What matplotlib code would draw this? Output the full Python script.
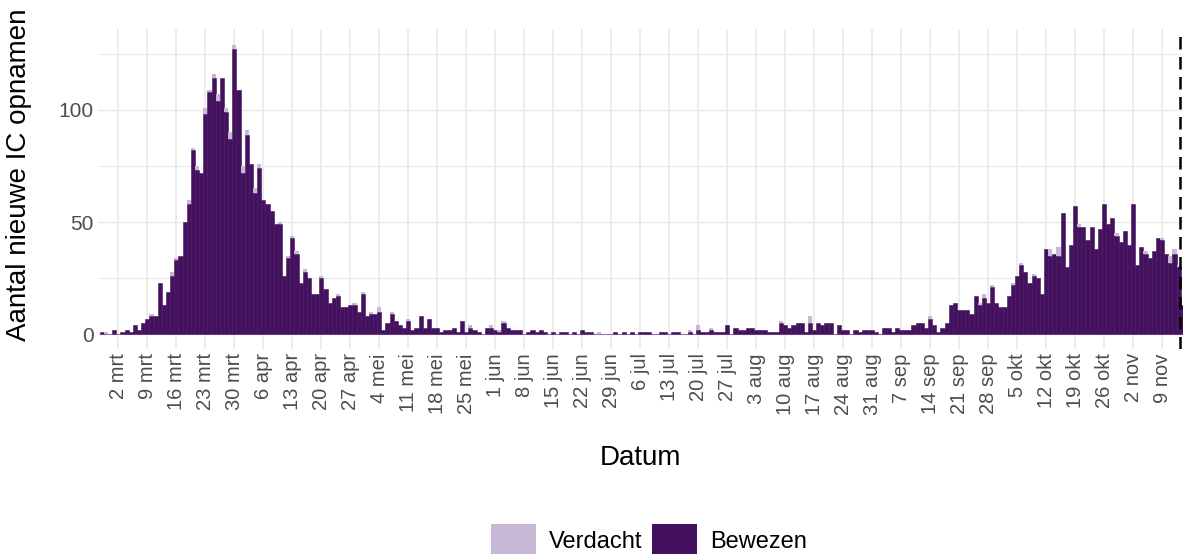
import numpy as np
import pandas as pd
import matplotlib
matplotlib.use('Agg')
import matplotlib.pyplot as plt
from matplotlib.patches import Patch

# dagelijkse IC opnamen, vanaf 27 feb 2020
start_date = '2020-02-27'
bewezen = [
    1, 0, 0, 2,
    0, 1, 2, 1, 4, 2, 5,
    7, 8, 8, 23, 13, 19, 26,
    33, 35, 50, 58, 82, 73, 72,
    98, 108, 114, 104, 114, 99, 87,
    127, 109, 72, 89, 76, 63, 74,
    60, 58, 55, 49, 49, 26, 34,
    43, 36, 23, 28, 25, 18, 18,
    25, 20, 14, 16, 17, 12, 12,
    13, 13, 10, 18, 8, 9, 9,
    10, 2, 5, 9, 6, 4, 3,
    6, 2, 3, 8, 3, 7, 3,
    3, 1, 2, 2, 3, 1, 6,
    1, 3, 2, 1, 0, 3, 3,
    2, 1, 5, 3, 2, 2, 2,
    0, 1, 2, 1, 2, 1, 0,
    1, 0, 1, 1, 0, 1, 0,
    2, 1, 1, 0, 0, 0, 0,
    0, 1, 0, 1, 0, 1, 0,
    1, 1, 1, 0, 0, 1, 1,
    0, 1, 1, 0, 0, 1, 0,
    2, 1, 1, 2, 1, 1, 1,
    4, 0, 3, 2, 2, 3, 3,
    2, 2, 2, 1, 1, 1, 5,
    4, 3, 4, 5, 5, 1, 5,
    2, 5, 4, 5, 5, 0, 4,
    2, 2, 0, 2, 1, 2, 2,
    2, 1, 0, 3, 3, 1, 3,
    2, 2, 2, 4, 5, 5, 3,
    7, 4, 1, 3, 5, 13, 14,
    11, 11, 11, 9, 17, 13, 16,
    14, 21, 14, 12, 12, 17, 22,
    26, 31, 28, 23, 26, 25, 18,
    38, 35, 36, 35, 54, 30, 40,
    57, 48, 48, 42, 48, 38, 47,
    58, 49, 52, 44, 41, 46, 40,
    58, 31, 39, 36, 34, 37, 43,
    42, 36, 32, 36, 30, 13,
]
verdacht = [
    0, 1, 0, 0,
    0, 0, 0, 0, 0, 0, 0,
    0, 1, 0, 0, 0, 0, 2,
    1, 0, 0, 2, 1, 2, 0,
    3, 1, 2, 3, 0, 2, 3,
    2, 0, 3, 2, 0, 2, 2,
    0, 0, 0, 0, 1, 0, 1,
    1, 1, 0, 1, 0, 0, 0,
    1, 0, 0, 0, 1, 0, 0,
    0, 1, 0, 1, 0, 1, 0,
    2, 0, 0, 1, 0, 0, 0,
    1, 0, 0, 0, 0, 0, 0,
    0, 0, 0, 0, 0, 0, 0,
    0, 1, 0, 0, 0, 0, 1,
    0, 1, 1, 0, 0, 0, 0,
    0, 0, 0, 0, 0, 0, 0,
    0, 0, 0, 0, 0, 0, 0,
    0, 0, 0, 0, 1, 0, 0,
    0, 0, 0, 0, 0, 0, 0,
    0, 0, 0, 0, 0, 0, 0,
    0, 0, 0, 0, 0, 1, 0,
    2, 0, 0, 1, 0, 0, 0,
    0, 0, 0, 0, 0, 0, 0,
    0, 0, 0, 0, 0, 0, 1,
    0, 0, 0, 0, 0, 0, 3,
    0, 0, 0, 0, 0, 0, 0,
    0, 0, 0, 0, 0, 0, 0,
    0, 0, 0, 0, 0, 0, 0,
    0, 0, 0, 0, 0, 0, 0,
    1, 0, 0, 0, 0, 0, 0,
    0, 0, 0, 0, 0, 1, 2,
    0, 1, 0, 0, 0, 0, 1,
    0, 1, 0, 0, 1, 0, 0,
    0, 3, 0, 4, 0, 0, 0,
    0, 1, 0, 0, 0, 0, 0,
    0, 0, 0, 1, 0, 0, 0,
    0, 0, 0, 1, 0, 0, 0,
    1, 0, 3, 2, 1, 0,
]

# wekelijkse labels (maandagen) en Nederlandse maandnamen
tick_start = '2020-03-02'
tick_end = '2020-11-09'
maanden = {2: 'feb', 3: 'mrt', 4: 'apr', 5: 'mei', 6: 'jun', 7: 'jul',
           8: 'aug', 9: 'sep', 10: 'okt', 11: 'nov'}
cutoff_date = '2020-11-13 07:00'  # gestippelde lijn
y_major = [0, 50, 100]
y_minor = [25, 75, 125]

kleur_bewezen = '#44115e'
kleur_verdacht = '#c7b8d5'

plt.rcParams['font.family'] = ['Liberation Sans', 'DejaVu Sans']

dates = pd.date_range(start_date, periods=len(bewezen), freq='D')
tick_dates = pd.date_range(tick_start, tick_end, freq='7D')
tick_labels = [f'{d.day} {maanden[d.month]}' for d in tick_dates]

W, H = 1183, 554
fig = plt.figure(figsize=(W / 100, H / 100), dpi=100)
ax = fig.add_axes([98 / W, 1 - 349 / H, 1 - 98 / W, (349 - 29) / H])

ax.bar(dates, bewezen, width=1.0, color=kleur_bewezen, linewidth=0.4,
       edgecolor=kleur_bewezen, zorder=2)
ax.bar(dates, verdacht, bottom=bewezen, width=1.0, color=kleur_verdacht,
       linewidth=0, zorder=2)
ax.axvline(pd.Timestamp(cutoff_date), color='black', linestyle=(0, (5, 3)),
           linewidth=1.8, zorder=3)

ax.set_xlim(dates[0] - pd.Timedelta(hours=22), dates[-1] + pd.Timedelta(hours=1.5))
ax.set_ylim(-6.5, 136)

ax.set_xticks(tick_dates)
ax.set_xticklabels(tick_labels, rotation=90, fontsize=14.5, color='#4d4d4d')
ax.set_yticks(y_major)
ax.set_yticks(y_minor, minor=True)
ax.set_yticklabels([str(v) for v in y_major], fontsize=15, color='#4d4d4d')
ax.tick_params(axis='both', which='both', length=0)
ax.tick_params(axis='x', pad=3)
ax.tick_params(axis='y', pad=3)

ax.grid(axis='x', which='major', color='#ebebeb', linewidth=1.3, zorder=0)
ax.grid(axis='y', which='major', color='#ebebeb', linewidth=1.0, zorder=0)
ax.grid(axis='y', which='minor', color='#ebebeb', linewidth=0.8, zorder=0)
ax.set_axisbelow(True)
for s in ax.spines.values():
    s.set_visible(False)

ax.set_xlabel('Datum', fontsize=20, labelpad=22)
ax.set_ylabel('Aantal nieuwe IC opnamen', fontsize=20)
ax.yaxis.set_label_coords((32 - 98) / 1085, (349 - 175) / 320)

handles = [Patch(facecolor=kleur_verdacht, label='Verdacht'),
           Patch(facecolor=kleur_bewezen, label='Bewezen')]
fig.legend(handles=handles, loc='center', bbox_to_anchor=(649 / W, 1 - 540 / H),
           ncol=2, frameon=False, fontsize=17, handlelength=1.9,
           handleheight=1.7, handletextpad=0.55, columnspacing=0.4)

fig.savefig('out.png', dpi=100)
